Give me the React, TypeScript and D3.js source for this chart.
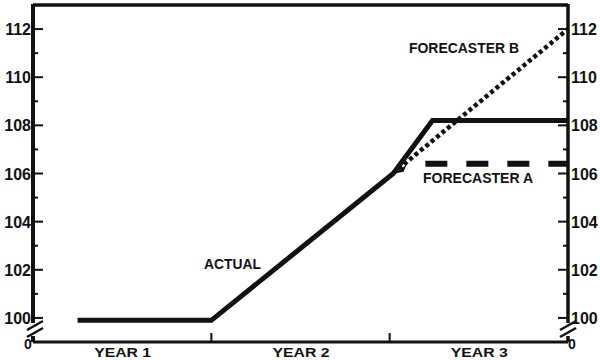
import React from "react";
import * as d3 from "d3";

const W = 600;
const H = 360;

const actualYears = [0.25, 1.0, 2.02, 2.24, 3.0];
const actualValues = [99.9, 99.9, 106, 108.2, 108.2];
const forecasterBYears = [2.05, 3.0];
const forecasterBValues = [106.2, 112.0];
const forecasterAYears = [2.2, 3.0];
const forecasterAValues = [106.4, 106.4];
const majorTicks = [100, 102, 104, 106, 108, 110, 112];
const minorTicks = [101, 103, 105, 107, 109, 111];
const yearLabels = ["YEAR 1", "YEAR 2", "YEAR 3"];
const yearBoundaries = [1, 2];

const FONT = "'Liberation Sans', Arial, Helvetica, sans-serif";

export default function App() {
  const x = d3.scaleLinear().domain([0, 3]).range([33, 568]);
  const y = d3.scaleLinear().domain([99, 113]).range([342, 5]);
  const line = d3
    .line<[number, number]>()
    .x((d) => x(d[0]))
    .y((d) => y(d[1]));
  const zip = (a: number[], b: number[]) => a.map((v, i) => [v, b[i]] as [number, number]);

  const bStart = zip(forecasterBYears, forecasterBValues)[0];
  const bx = x(bStart[0]);
  const by = y(bStart[1]);

  const x0 = x(0);
  const x3 = x(3);
  const yBottom = y(99);
  const yTop = y(113);

  return (
    <svg
      width={W}
      height={H}
      style={{ position: "absolute", left: 0, top: 0, background: "#fff" }}
      fontFamily={FONT}
    >
      <rect x={0} y={0} width={W} height={H} fill="#fff" />
      {/* frame */}
      <line x1={x0} x2={x3} y1={yTop} y2={yTop} stroke="#111" strokeWidth={3.5} />
      <line x1={x0} x2={x3} y1={yBottom} y2={yBottom} stroke="#111" strokeWidth={3} />
      {/* left axis with break */}
      <line x1={x0} x2={x0} y1={yTop - 1} y2={323} stroke="#111" strokeWidth={4} />
      <line x1={x0} x2={x0} y1={336} y2={yBottom} stroke="#111" strokeWidth={4} />
      <line x1={27} x2={43} y1={330} y2={321} stroke="#111" strokeWidth={2.5} />
      <line x1={27} x2={43} y1={337} y2={328} stroke="#111" strokeWidth={2.5} />
      {/* right axis with break */}
      <line x1={x3} x2={x3} y1={yTop - 1} y2={323} stroke="#111" strokeWidth={3.5} />
      <line x1={x3} x2={x3} y1={336} y2={yBottom} stroke="#111" strokeWidth={3.5} />
      <line x1={560} x2={576} y1={330} y2={321} stroke="#111" strokeWidth={2.5} />
      <line x1={560} x2={576} y1={337} y2={328} stroke="#111" strokeWidth={2.5} />

      {/* y ticks */}
      {majorTicks.map((t) => (
        <g key={"M" + t}>
          <line x1={x0} x2={x0 + 10} y1={y(t)} y2={y(t)} stroke="#111" strokeWidth={2} />
          <line x1={x3 - 10} x2={x3} y1={y(t)} y2={y(t)} stroke="#111" strokeWidth={2} />
          <text x={31} y={y(t) + 6} textAnchor="end" fontSize={16} fontWeight="bold" fill="#111">
            {t}
          </text>
          <text x={571} y={y(t) + 6} textAnchor="start" fontSize={16} fontWeight="bold" fill="#111">
            {t}
          </text>
        </g>
      ))}
      {minorTicks.map((t) => (
        <g key={"m" + t}>
          <line x1={x0} x2={x0 + 5} y1={y(t)} y2={y(t)} stroke="#111" strokeWidth={2} />
          <line x1={x3 - 5} x2={x3} y1={y(t)} y2={y(t)} stroke="#111" strokeWidth={2} />
        </g>
      ))}
      <text x={28} y={349} textAnchor="middle" fontSize={14} fontWeight="bold" fill="#111">0</text>
      <text x={572} y={349} textAnchor="middle" fontSize={14} fontWeight="bold" fill="#111">0</text>

      {/* x ticks and labels */}
      {yearBoundaries.map((b) => (
        <line key={b} x1={x(b)} x2={x(b)} y1={yBottom} y2={yBottom - 9} stroke="#111" strokeWidth={2} />
      ))}
      {yearLabels.map((l, i) => (
        <text
          key={l}
          x={x(i + 0.5) - 28}
          y={357}
          fontSize={13.5}
          fontWeight="bold"
          fill="#111"
          textLength={57}
          lengthAdjust="spacingAndGlyphs"
        >
          {l}
        </text>
      ))}

      {/* series */}
      <path
        d={line(zip(forecasterAYears, forecasterAValues)) || ""}
        fill="none"
        stroke="#111"
        strokeWidth={6}
        strokeDasharray="22,19"
      />
      <path
        d={line(zip(forecasterBYears, forecasterBValues)) || ""}
        fill="none"
        stroke="#111"
        strokeWidth={4.5}
        strokeDasharray="4,3"
      />
      <path
        d={line(zip(actualYears, actualValues)) || ""}
        fill="none"
        stroke="#111"
        strokeWidth={5}
        strokeLinejoin="miter"
      />
      <polygon
        points={`${bx - 5},${by + 5} ${bx + 8},${by - 4} ${bx + 5},${by + 3}`}
        fill="#111"
      />

      {/* annotations */}
      <text x={204} y={269} fontSize={14} fontWeight="bold" fill="#111" textLength={57} lengthAdjust="spacingAndGlyphs">
        ACTUAL
      </text>
      <text x={409} y={53} fontSize={14} fontWeight="bold" fill="#111" textLength={110} lengthAdjust="spacingAndGlyphs">
        FORECASTER B
      </text>
      <text x={423} y={183} fontSize={14} fontWeight="bold" fill="#111" textLength={110} lengthAdjust="spacingAndGlyphs">
        FORECASTER A
      </text>
    </svg>
  );
}
